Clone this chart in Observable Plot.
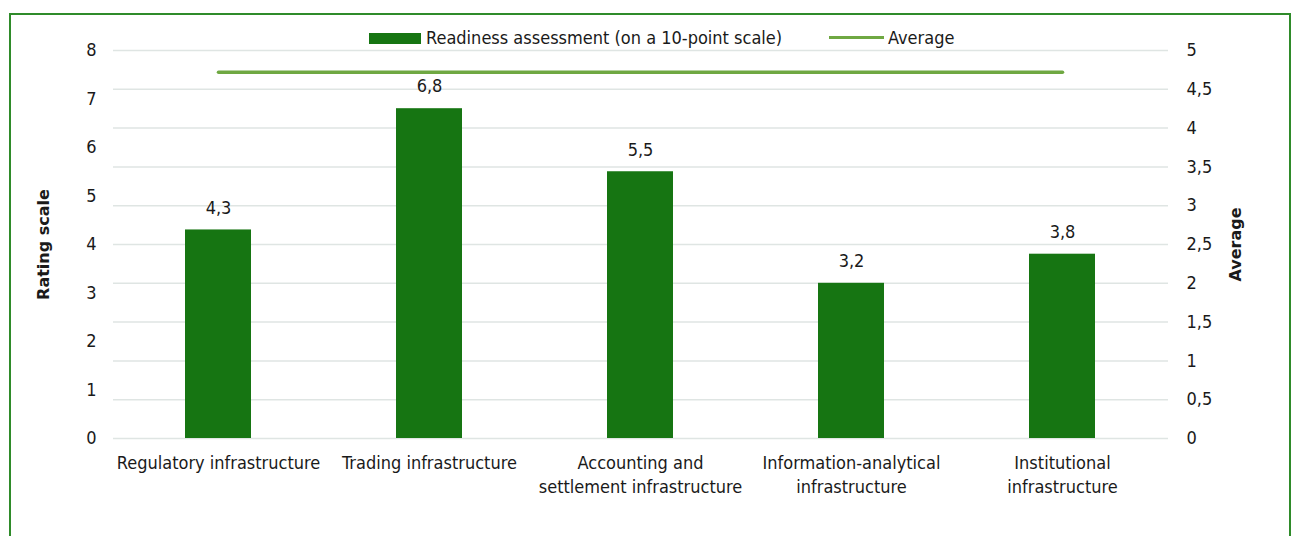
<!DOCTYPE html>
<html><head><meta charset="utf-8">
<script src="https://cdn.jsdelivr.net/npm/d3@7"></script>
<script src="https://cdn.jsdelivr.net/npm/@observablehq/plot@0.6"></script>
<style>
body{margin:0;background:#fff;}
#wrap{position:relative;width:1292px;height:536px;overflow:hidden;font-family:"DejaVu Sans";font-stretch:condensed;color:#1a1a1a;}
#frame{position:absolute;left:9px;top:13px;width:1282px;height:600px;border:2px solid #2f8b2a;box-sizing:border-box;}
#chart{position:absolute;left:0;top:0;}
.lg{position:absolute;font-size:18px;line-height:20px;white-space:nowrap;}
.sw{position:absolute;}
svg g[aria-label="y-axis label"] text{font-weight:bold;font-stretch:normal;font-size:16px;}
</style></head>
<body>
<div id="wrap">
  <div id="frame"></div>
  <div id="chart"></div>
  <div class="sw" style="left:369px;top:33px;width:52px;height:11px;background:#167512;"></div>
  <div class="lg" style="left:426px;top:28px;">Readiness assessment (on a 10-point scale)</div>
  <div class="sw" style="left:829px;top:36px;width:55px;height:3px;background:#6fa842;"></div>
  <div class="lg" style="left:888px;top:28px;">Average</div>
</div>
<script>
const categories = ["Regulatory infrastructure", "Trading infrastructure", "Accounting and\nsettlement infrastructure", "Information-analytical\ninfrastructure", "Institutional\ninfrastructure"];
const readiness = [4.3, 6.8, 5.5, 3.2, 3.8];
const average = [4.72, 4.72, 4.72, 4.72, 4.72];
const leftTicks = [0, 1, 2, 3, 4, 5, 6, 7, 8];
const rightTicks = [0, 0.5, 1, 1.5, 2, 2.5, 3, 3.5, 4, 4.5, 5];

const k = 8 / 5; // right axis (0-5) mapped onto left scale (0-8)
const fmt = v => String(Math.round(v * 10) / 10).replace(".", ",");
const data = categories.map((c, i) => ({cat: c, value: readiness[i], avg: average[i]}));

const chart = Plot.plot({
  width: 1292,
  height: 536,
  marginLeft: 113,
  marginRight: 124,
  marginTop: 50,
  marginBottom: 98,
  style: {fontSize: "18px", fontFamily: "DejaVu Sans", fontStretch: "condensed", color: "#1a1a1a", background: "transparent"},
  x: {domain: categories, paddingInner: 0.687, paddingOuter: 0.3435},
  y: {domain: [0, 8]},
  marks: [
    Plot.gridY(rightTicks.map(v => v * k), {stroke: "#dfe5e3", strokeOpacity: 1, strokeWidth: 1.5}),
    Plot.barY(data, {x: "cat", y: "value", fill: "#167512"}),
    Plot.text(data, {x: "cat", y: "value", text: d => fmt(d.value), dy: -22, fill: "#1a1a1a"}),
    Plot.lineY(data, {x: "cat", y: d => d.avg * k, stroke: "#6fa842", strokeWidth: 3.5, strokeLinecap: "round"}),
    Plot.axisX({tickSize: 0, tickPadding: 13, label: null, lineHeight: 1.36, fill: "#1a1a1a"}),
    Plot.axisY(leftTicks, {anchor: "left", tickSize: 0, tickPadding: 17, tickFormat: fmt, label: "Rating scale", labelArrow: "none", labelAnchor: "center", labelOffset: 76, fill: "#1a1a1a"}),
    Plot.axisY(rightTicks.map(v => v * k), {anchor: "right", tickSize: 0, tickPadding: 18, tickFormat: d => fmt(d / k), label: "Average", labelArrow: "none", labelAnchor: "center", labelOffset: 72, fill: "#1a1a1a"})
  ]
});
document.getElementById("chart").appendChild(chart);
</script>
</body></html>
